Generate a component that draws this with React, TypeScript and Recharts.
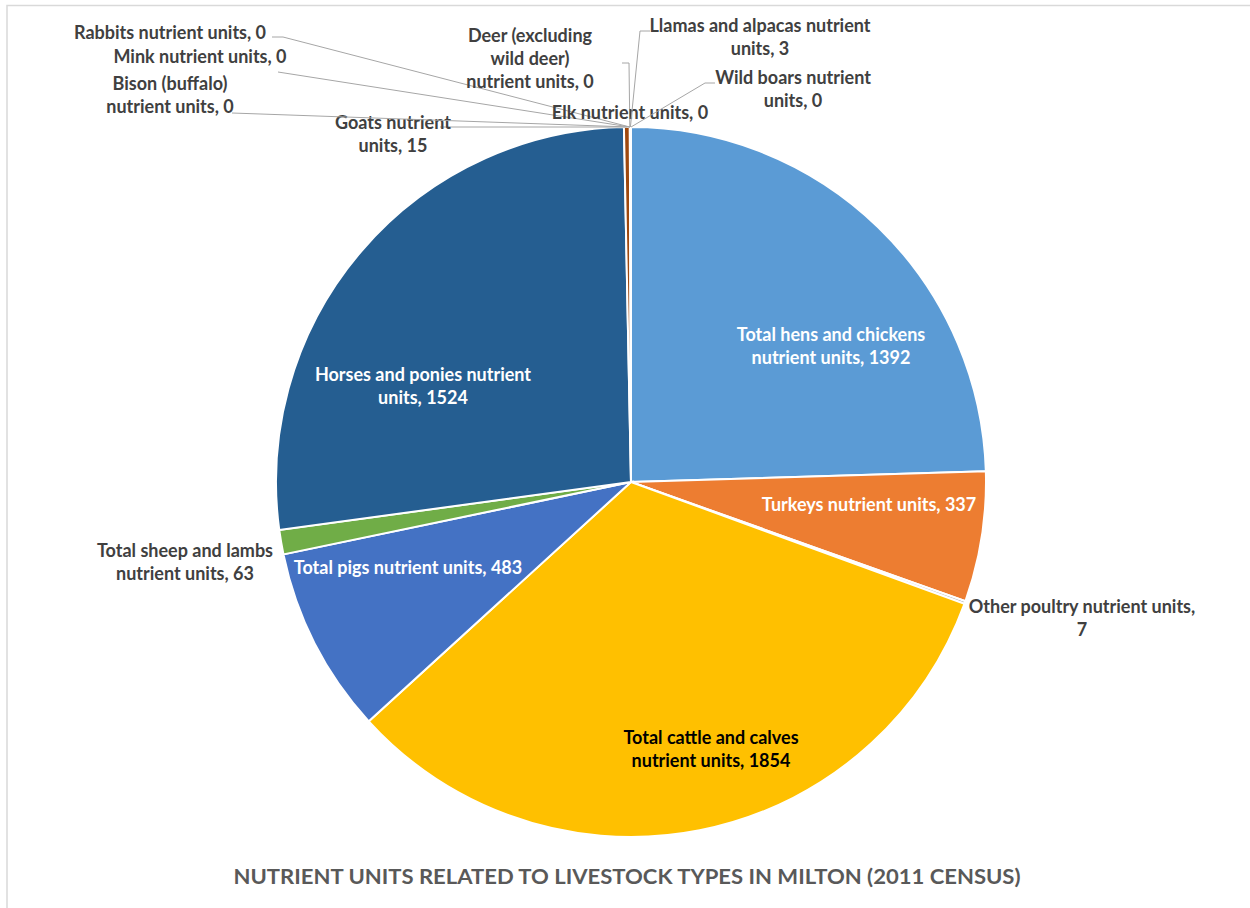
import React from "react";
import { PieChart, Pie, Cell } from "recharts";

const categories = [
  "Total hens and chickens nutrient units",
  "Turkeys nutrient units",
  "Other poultry nutrient units",
  "Total cattle and calves nutrient units",
  "Total pigs nutrient units",
  "Total sheep and lambs nutrient units",
  "Horses and ponies nutrient units",
  "Goats nutrient units",
  "Bison (buffalo) nutrient units",
  "Mink nutrient units",
  "Rabbits nutrient units",
  "Deer (excluding wild deer) nutrient units",
  "Elk nutrient units",
  "Llamas and alpacas nutrient units",
  "Wild boars nutrient units",
];
const values = [1392, 337, 7, 1854, 483, 63, 1524, 15, 0, 0, 0, 0, 0, 3, 0];
const colors = [
  "#5B9BD5", "#ED7D31", "#A5A5A5", "#FFC000", "#4472C4", "#70AD47",
  "#255E91", "#9E480E", "#636363", "#997300", "#264478", "#43682B",
  "#7CAFDD", "#F1975A", "#B7B7B7",
];
const title = "NUTRIENT UNITS RELATED TO LIVESTOCK TYPES IN MILTON (2011 CENSUS)";

const data = categories.map((name, i) => ({ name, value: values[i] }));

// label layout: centre of text block, words per line, text colour, leader start points
const labelLayout = [
  { x: 831, y: 334, breaks: [4, 3], fill: "#FFFFFF", leader: null },
  { x: 869, y: 504, breaks: [4], fill: "#FFFFFF", leader: null },
  { x: 1082, y: 606, breaks: [4, 1], fill: "#404040", leader: null },
  { x: 711, y: 737, breaks: [4, 3], fill: "#000000", leader: null },
  { x: 408, y: 567, breaks: [5], fill: "#FFFFFF", leader: null },
  { x: 185, y: 550, breaks: [4, 3], fill: "#404040", leader: null },
  { x: 423, y: 374, breaks: [4, 2], fill: "#FFFFFF", leader: null },
  { x: 393, y: 122, breaks: [2, 2], fill: "#404040", leader: [[440, 127]] },
  { x: 170, y: 83, breaks: [2, 3], fill: "#404040", leader: [[232, 113]] },
  { x: 200, y: 56, breaks: [4], fill: "#404040", leader: [[278, 72]] },
  { x: 170, y: 32, breaks: [4], fill: "#404040", leader: [[272, 37], [283, 37]] },
  { x: 530, y: 35, breaks: [2, 2, 3], fill: "#404040", leader: [[622, 63], [629, 63]] },
  { x: 630, y: 112, breaks: [4], fill: "#404040", leader: null },
  { x: 760, y: 25, breaks: [4, 2], fill: "#404040", leader: [[650, 31], [640, 31]] },
  { x: 793, y: 77, breaks: [3, 2], fill: "#404040", leader: [[715, 83], [705, 83]] },
];

const RAD = Math.PI / 180;
const LINE_H = 23;

function renderLabel(props: any) {
  const { cx, cy, midAngle, outerRadius, index, name, value } = props;
  const lay = labelLayout[index];
  if (!lay) return null;
  const words = `${name}, ${value}`.split(" ");
  const lines: string[] = [];
  let k = 0;
  for (const n of lay.breaks) {
    lines.push(words.slice(k, k + n).join(" "));
    k += n;
  }
  const y0 = lay.y;
  let leaderEl = null;
  if (lay.leader) {
    const ex = cx + outerRadius * Math.cos(-midAngle * RAD);
    const ey = cy + outerRadius * Math.sin(-midAngle * RAD);
    const pts = [...lay.leader, [ex, ey]].map((p) => p.join(",")).join(" ");
    leaderEl = <polyline points={pts} fill="none" stroke="#A6A6A6" strokeWidth={1} />;
  }
  return (
    <g key={`lbl-${index}`}>
      {leaderEl}
      <text
        x={lay.x}
        y={y0}
        fill={lay.fill}
        textAnchor="middle"
        fontFamily="Lato, 'Open Sans', sans-serif"
        fontWeight={700}
        fontSize={18}
      >
        {lines.map((ln, i) => (
          <tspan key={i} x={lay.x} y={y0 + i * LINE_H} dominantBaseline="central">
            {ln}
          </tspan>
        ))}
      </text>
    </g>
  );
}

export default function App() {
  return (
    <div style={{ position: "absolute", left: 0, top: 0, width: 1250, height: 908, background: "#fff" }}>
      <svg width={1250} height={908} style={{ position: "absolute", left: 0, top: 0 }}>
        <rect x={7} y={5.5} width={1260} height={920} fill="#fff" stroke="#D9D9D9" strokeWidth={1.5} />
        <text
          x={627}
          y={884}
          textAnchor="middle"
          fill="#595959"
          fontFamily="Lato, 'Open Sans', sans-serif"
          fontWeight={700}
          fontSize={21}
          textLength={787}
          lengthAdjust="spacingAndGlyphs"
        >
          {title}
        </text>
      </svg>
      <div style={{ position: "absolute", left: 0, top: 0 }}>
        <PieChart width={1250} height={908} margin={{ top: 0, right: 0, bottom: 0, left: 0 }}>
          <Pie
            data={data}
            dataKey="value"
            nameKey="name"
            cx={631}
            cy={482}
            outerRadius={355}
            startAngle={90}
            endAngle={-270}
            stroke="#FFFFFF"
            strokeWidth={2}
            isAnimationActive={false}
            label={renderLabel}
            labelLine={false}
          >
            {data.map((d, i) => (
              <Cell key={d.name} fill={colors[i]} />
            ))}
          </Pie>
        </PieChart>
      </div>
    </div>
  );
}
